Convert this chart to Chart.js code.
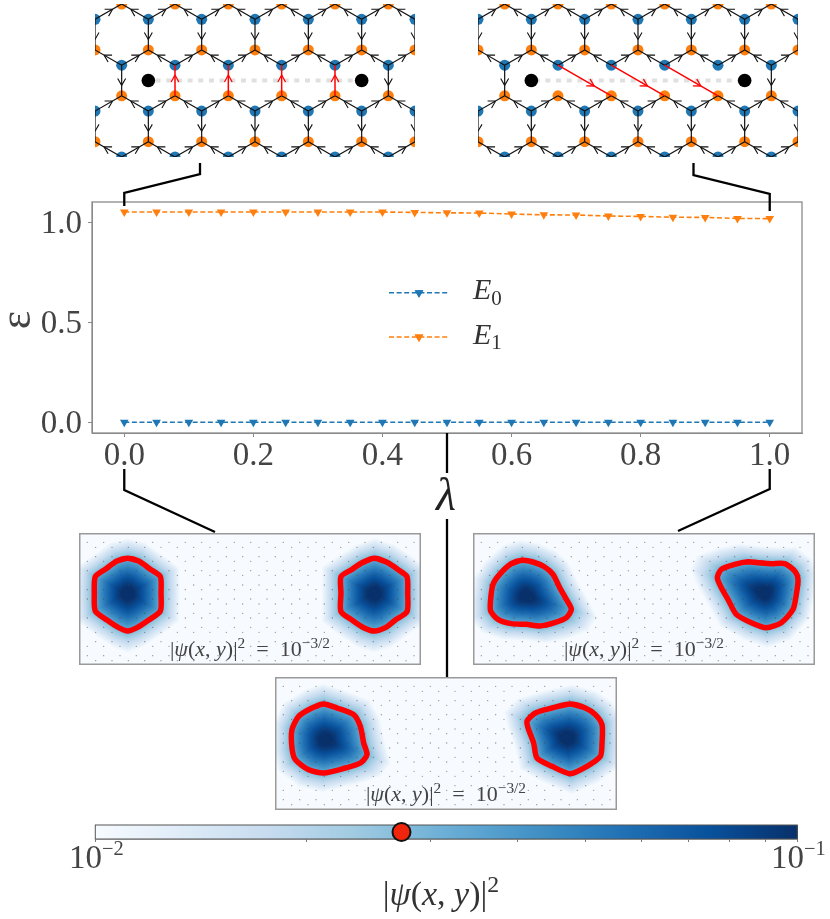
<!DOCTYPE html>
<html>
<head>
<meta charset="utf-8">
<script src="https://cdn.jsdelivr.net/npm/chart.js@4"></script>
<style>
  html, body { margin: 0; padding: 0; background: #fff; }
  #page { position: relative; width: 830px; height: 919px; overflow: hidden; }
  canvas { position: absolute; display: block; }
</style>
</head>
<body>
<div id="page"></div>
<script>
// spectrum
const lambdaValues = [0, 0.05, 0.1, 0.15, 0.2, 0.25, 0.3, 0.35, 0.4, 0.45, 0.5, 0.55, 0.6, 0.65, 0.7, 0.75, 0.8, 0.85, 0.9, 0.95, 1];
const energy0 = [0, 0, 0, 0, 0, 0, 0, 0, 0, 0, 0, 0, 0, 0, 0, 0, 0, 0, 0, 0, 0];
const energy1 = [1.05, 1.05, 1.05, 1.05, 1.05, 1.05, 1.05, 1.05, 1.05, 1.048, 1.046, 1.045, 1.04, 1.036, 1.035, 1.03, 1.028, 1.024, 1.023, 1.018, 1.017];
const xTicks = [0, 0.2, 0.4, 0.6, 0.8, 1];
const yTicks = [0, 0.5, 1];

// honeycomb lattice, x in lattice constants, y in bond lengths
const evenColumns = [0, 1, 2, 3, 4, 5, 6];
const oddColumns = [-0.5, 0.5, 1.5, 2.5, 3.5, 4.5, 5.5, 6.5];
const blueRows = [[0.5, evenColumns], [2, oddColumns], [3.5, evenColumns], [5, oddColumns]];
const orangeRows = [[0, oddColumns], [1.5, evenColumns], [3, oddColumns], [4.5, evenColumns]];
const vortexX = [1, 5];
const vortexY = 2.5;
const cutColumns = [1.5, 2.5, 3.5, 4.5];
const cutRow = 2;
const straightString = [[1.5, 3, 1.5, 2], [2.5, 3, 2.5, 2], [3.5, 3, 3.5, 2], [4.5, 3, 4.5, 2]];
const tiltedString = [[1.5, 2, 2.5, 3], [2.5, 2, 3.5, 3], [3.5, 2, 4.5, 3]];

// density panels, sample grid 1026 x 396
const dotColumnsA = [25, 74, 123, 172, 221, 270, 319, 368, 417, 466, 515, 564, 613, 662, 711, 760, 809, 858, 907, 956, 1005];
const dotColumnsB = [1, 50, 99, 148, 197, 246, 295, 344, 393, 442, 491, 540, 589, 638, 687, 736, 785, 834, 883, 932, 981];
const dotRowsA = [0, 28, 85, 113, 170, 198, 255, 283, 340, 368];
const dotRowsB = [43, 71, 127, 156, 213, 241, 298, 326, 383];

const contourLeft0 = [[146,76],[179,84],[214,109],[244,131],[246,181],[244,234],[209,261],[174,284],[146,294],[119,284],[84,261],[49,234],[46,181],[49,131],[79,109],[114,84]];
const contourRight0 = [[886,76],[924,88],[959,111],[984,131],[986,181],[984,236],[949,261],[919,284],[886,294],[854,284],[819,261],[786,236],[786,181],[786,131],[816,111],[852,88]];
const centerLeft0 = [146, 181];
const centerRight0 = [886, 181];

const contourLeft1 = [[147,82],[180,87],[215,102],[240,124],[260,164],[280,199],[295,229],[280,254],[245,269],[200,279],[160,274],[115,272],[75,259],[53,234],[53,199],[60,154],[80,124],[115,92]];
const contourRight1 = [[855,89],[895,92],[935,92],[965,114],[975,139],[970,184],[960,229],[925,269],[880,284],[835,269],[790,244],[765,199],[745,164],[733,134],[745,109],[785,94],[825,86]];
const centerLeft1 = [160, 189];
const centerRight1 = [875, 179];

const contourLeftMid = [[146,81],[186,93],[236,113],[256,148],[266,198],[276,233],[256,258],[211,273],[146,288],[101,278],[61,248],[51,213],[51,158],[71,118],[111,93]];
const contourRightMid = [[886,81],[931,93],[961,113],[981,143],[981,198],[976,238],[936,268],[886,290],[831,268],[786,243],[776,198],[761,158],[756,133],[781,108],[831,93]];
const centerLeftMid = [151, 188];
const centerRightMid = [876, 183];

// colour bar
const colorbarTicks = [0.01, 0.02, 0.03, 0.04, 0.05, 0.06, 0.07, 0.08, 0.09, 0.1];
const contourLevel = 0.0273;
const blues = [[247,251,255],[222,235,247],[198,219,239],[158,202,225],[107,174,214],[66,146,198],[33,113,181],[8,81,156],[8,48,107]];

const serif = '"Liberation Serif", "DejaVu Serif", serif';
Chart.defaults.font.family = serif;
Chart.defaults.animation = false;
Chart.defaults.layout.autoPadding = false;
Chart.defaults.plugins.legend.display = false;
Chart.defaults.plugins.tooltip.enabled = false;

function addCanvas(left, top, width, height) {
  const canvas = document.createElement('canvas');
  canvas.width = width;
  canvas.height = height;
  canvas.style.left = left + 'px';
  canvas.style.top = top + 'px';
  document.getElementById('page').appendChild(canvas);
  return canvas;
}

function bluesColor(t) {
  t = Math.max(0, Math.min(1, t)) * (blues.length - 1);
  const i = Math.min(Math.floor(t), blues.length - 2);
  const f = t - i;
  return [0, 1, 2].map(k => blues[i][k] + (blues[i + 1][k] - blues[i][k]) * f);
}

// text with italics, superscripts and subscripts
function mathText(ctx, parts, x, y, size, align, color, small = 0.7) {
  const fontFor = p => {
    const scaled = (p[1] === 'sup' || p[1] === 'sub') ? size * small : size;
    return (p[1] === 'i' ? 'italic ' : '') + scaled + 'px ' + serif;
  };
  let total = 0;
  parts.forEach(p => { ctx.font = fontFor(p); total += ctx.measureText(p[0]).width; });
  let cx = align === 'center' ? x - total / 2 : x;
  ctx.save();
  ctx.fillStyle = color;
  ctx.textAlign = 'left';
  ctx.textBaseline = 'alphabetic';
  parts.forEach(p => {
    ctx.font = fontFor(p);
    const dy = p[1] === 'sup' ? -size * 0.38 : p[1] === 'sub' ? size * 0.18 : 0;
    ctx.fillText(p[0], cx, y + dy);
    cx += ctx.measureText(p[0]).width;
  });
  ctx.restore();
}

const psiParts = [['|', ''], ['ψ', 'i'], ['(', ''], ['x', 'i'], [', ', ''], ['y', 'i'], [')', ''], ['|', ''], ['2', 'sup']];

// ---- main spectrum panel ----
const mainPlugin = {
  id: 'mainDecor',
  afterDatasetsDraw(chart) {
    const ctx = chart.ctx, area = chart.chartArea;
    const x = chart.scales.x;
    const x0 = x.getPixelForValue(0), x1 = x.getPixelForValue(1), xm = x.getPixelForValue(0.5);

    ctx.save();
    ctx.strokeStyle = '#8a8a8a';
    ctx.lineWidth = 1.3;
    ctx.strokeRect(area.left, area.top, area.right - area.left, area.bottom - area.top);

    // connectors to the insets
    ctx.strokeStyle = '#000';
    ctx.lineWidth = 2.3;
    [
      [[200, 163], [200, 174], [x0, 193], [x0, 206]],
      [[693.5, 163], [693.5, 175], [x1, 194], [x1, 211]],
      [[x0, 469], [x0, 490], [215, 532]],
      [[x1, 469], [x1, 489], [678, 531]],
      [[xm, 433], [xm, 473]],
      [[xm, 519], [xm, 677]]
    ].forEach(path => {
      ctx.beginPath();
      path.forEach((p, i) => i ? ctx.lineTo(p[0], p[1]) : ctx.moveTo(p[0], p[1]));
      ctx.stroke();
    });

    // legend
    chart.data.datasets.forEach((ds, i) => {
      const ly = 292.7 + i * 44.3;
      ctx.strokeStyle = ds.borderColor;
      ctx.fillStyle = ds.borderColor;
      ctx.lineWidth = ds.borderWidth;
      ctx.setLineDash(ds.borderDash);
      ctx.beginPath();
      ctx.moveTo(389, ly);
      ctx.lineTo(448, ly);
      ctx.stroke();
      ctx.setLineDash([]);
      Chart.helpers.drawPoint(ctx, { pointStyle: 'triangle', radius: ds.pointRadius, rotation: 180, borderWidth: 0 }, 419, ly);
      ctx.fill();
      mathText(ctx, [['E', 'i'], [String(i), 'sub']], 473, ly + 6.5, 30, 'left', '#333');
    });
    ctx.restore();

    // axis labels
    mathText(ctx, [['λ', 'i']], xm - 1, 510, 46, 'center', '#222');
    ctx.save();
    ctx.translate(30, 320);
    ctx.rotate(-Math.PI / 2);
    mathText(ctx, [['ε', '']], 0, 0, 44, 'center', '#444');
    ctx.restore();
  }
};

new Chart(addCanvas(0, 0, 830, 919), {
  type: 'scatter',
  data: {
    datasets: [
      { label: 'E0', data: lambdaValues.map((v, i) => ({ x: v, y: energy0[i] })), borderColor: '#1f77b4', backgroundColor: '#1f77b4' },
      { label: 'E1', data: lambdaValues.map((v, i) => ({ x: v, y: energy1[i] })), borderColor: '#ff7f0e', backgroundColor: '#ff7f0e' }
    ].map(ds => Object.assign(ds, {
      showLine: true, borderWidth: 1.6, borderDash: [5, 2.6], tension: 0,
      pointStyle: 'triangle', pointRotation: 180, pointRadius: 5, pointBorderWidth: 0
    }))
  },
  options: {
    responsive: false,
    layout: { padding: { left: 32, right: 28, top: 202, bottom: 426 } },
    scales: {
      x: {
        type: 'linear', min: -0.05, max: 1.05,
        afterBuildTicks: s => { s.ticks = xTicks.map(v => ({ value: v })); },
        afterFit: s => { s.height = 60; },
        grid: { drawOnChartArea: false, tickColor: '#8a8a8a', tickLength: 4 },
        border: { color: '#8a8a8a' },
        ticks: { font: { size: 33 }, color: '#444', padding: 0, maxRotation: 0, autoSkip: false, callback: v => v.toFixed(1) }
      },
      y: {
        type: 'linear', min: -0.0535, max: 1.1,
        afterBuildTicks: s => { s.ticks = yTicks.map(v => ({ value: v })); },
        afterFit: s => { s.width = 60; },
        grid: { drawOnChartArea: false, tickColor: '#8a8a8a', tickLength: 4 },
        border: { color: '#8a8a8a' },
        ticks: { font: { size: 33 }, color: '#444', padding: 6, labelOffset: 2, autoSkip: false, callback: v => v.toFixed(1) }
      }
    }
  },
  plugins: [mainPlugin]
});

// ---- lattice insets ----
function sitesOf(rows) {
  const out = [];
  rows.forEach(([y, cols]) => cols.forEach(x => out.push({ x, y })));
  return out;
}

function bondsOf(keepVertical) {
  const bonds = [];
  blueRows.forEach(([y, cols]) => cols.forEach(x => {
    bonds.push([x, y, x - 0.5, y - 0.5], [x, y, x + 0.5, y - 0.5]);
    if (keepVertical(x, y)) bonds.push([x, y, x, y + 1]);
  }));
  return bonds;
}

function segments(list) {
  const out = [];
  list.forEach(b => out.push({ x: b[0], y: b[1] }, { x: b[2], y: b[3] }, { x: NaN, y: NaN }));
  return out;
}

function drawHeads(chart, list, color, frac, len, half, width) {
  const ctx = chart.ctx, area = chart.chartArea, sx = chart.scales.x, sy = chart.scales.y;
  ctx.save();
  ctx.beginPath();
  ctx.rect(area.left, area.top, area.right - area.left, area.bottom - area.top);
  ctx.clip();
  ctx.strokeStyle = color;
  ctx.lineWidth = width;
  list.forEach(b => {
    const x0 = sx.getPixelForValue(b[0]), y0 = sy.getPixelForValue(b[1]);
    const x1 = sx.getPixelForValue(b[2]), y1 = sy.getPixelForValue(b[3]);
    const tx = x0 + (x1 - x0) * frac, ty = y0 + (y1 - y0) * frac;
    const a = Math.atan2(y1 - y0, x1 - x0);
    ctx.beginPath();
    [a + half, a - half].forEach(d => {
      ctx.moveTo(tx, ty);
      ctx.lineTo(tx - Math.cos(d) * len, ty - Math.sin(d) * len);
    });
    ctx.stroke();
  });
  ctx.restore();
}

function latticeInset(left, bonds, string, dashOffset) {
  new Chart(addCanvas(left, 4, 320, 153), {
    type: 'scatter',
    data: {
      datasets: [
        { data: vortexX.map(x => ({ x, y: vortexY })), showLine: true, borderColor: '#e0e0e0', borderWidth: 4, borderDash: [5, 5.67], borderDashOffset: dashOffset, pointRadius: 0, order: 6 },
        { data: sitesOf(blueRows), backgroundColor: '#1f77b4', pointRadius: 5.5, pointBorderWidth: 0, order: 5 },
        { data: sitesOf(orangeRows), backgroundColor: '#ff7f0e', pointRadius: 5.5, pointBorderWidth: 0, order: 4 },
        { data: segments(bonds), showLine: true, spanGaps: false, borderColor: '#111', borderWidth: 1.2, pointRadius: 0, order: 3 },
        { data: segments(string), showLine: true, spanGaps: false, borderColor: '#ff0000', borderWidth: 1.5, pointRadius: 0, order: 2 },
        { data: vortexX.map(x => ({ x, y: vortexY })), backgroundColor: '#000', pointRadius: 6.8, pointBorderWidth: 0, order: 1 }
      ]
    },
    options: {
      responsive: false,
      scales: {
        x: { type: 'linear', min: 0, max: 6, display: false },
        y: { type: 'linear', min: 0, max: 5, reverse: true, display: false }
      }
    },
    plugins: [{
      id: 'arrowHeads',
      afterDatasetsDraw(chart) {
        drawHeads(chart, bonds, '#111', 0.66, 8, 0.52, 1.1);
        drawHeads(chart, string, '#ff0000', 0.68, 8, 0.5, 1.3);
      }
    }]
  });
}

const isCut = (x, y) => y === cutRow && cutColumns.includes(x);
latticeInset(95, bondsOf((x, y) => !isCut(x, y)), straightString, 3.4);
latticeInset(478, bondsOf((x, y) => !isCut(x, y)), tiltedString, 7.3);

// ---- density insets ----
function radialTable(center, contour) {
  const table = [];
  for (let k = 0; k < 720; k++) {
    const a = k / 720 * 2 * Math.PI, dx = Math.cos(a), dy = Math.sin(a);
    let best = 0;
    contour.forEach((p, i) => {
      const q = contour[(i + 1) % contour.length];
      const ex = q[0] - p[0], ey = q[1] - p[1];
      const det = dx * -ey + ex * dy;
      if (Math.abs(det) < 1e-9) return;
      const wx = p[0] - center[0], wy = p[1] - center[1];
      const t = (wx * -ey + ex * wy) / det;
      const s = (dx * wy - dy * wx) / det;
      if (t > 0 && s >= 0 && s <= 1 && t > best) best = t;
    });
    table.push(best);
  }
  return table;
}

function densityInset(left, top, height, contourA, centerA, contourB, centerB) {
  // wrap round a little so the curve has no kink at its first point
  const closed = c => [c[c.length - 1]].concat(c, [c[0], c[1]]).map(p => ({ x: p[0], y: p[1] }));
  const dots = [];
  dotRowsA.forEach(y => dotColumnsA.forEach(x => dots.push({ x, y })));
  dotRowsB.forEach(y => dotColumnsB.forEach(x => dots.push({ x, y })));
  const blobs = [[centerA, radialTable(centerA, contourA)], [centerB, radialTable(centerB, contourB)]];

  const densityPlugin = {
    id: 'density',
    beforeDatasetsDraw(chart) {
      const area = chart.chartArea, sx = chart.scales.x, sy = chart.scales.y;
      const w = Math.round(area.right - area.left), h = Math.round(area.bottom - area.top);
      const off = document.createElement('canvas');
      off.width = w;
      off.height = h;
      const octx = off.getContext('2d');
      const img = octx.createImageData(w, h);
      for (let j = 0; j < h; j++) {
        const y = sy.getValueForPixel(area.top + j + 0.5);
        for (let i = 0; i < w; i++) {
          const x = sx.getValueForPixel(area.left + i + 0.5);
          let t = 0;
          blobs.forEach(([c, table]) => {
            const dx = x - c[0], dy = y - c[1];
            let a = Math.atan2(dy, dx);
            if (a < 0) a += 2 * Math.PI;
            const rho = Math.hypot(dx, dy) / table[Math.floor(a / (2 * Math.PI) * 720) % 720];
            t = Math.max(t, 1.05 - 0.55 * Math.pow(rho, 1.4));
          });
          const col = bluesColor(t);
          const o = (j * w + i) * 4;
          img.data[o] = col[0];
          img.data[o + 1] = col[1];
          img.data[o + 2] = col[2];
          img.data[o + 3] = 255;
        }
      }
      octx.putImageData(img, 0, 0);
      chart.ctx.drawImage(off, area.left, area.top);
    },
    afterDatasetsDraw(chart) {
      const ctx = chart.ctx, area = chart.chartArea;
      mathText(ctx, psiParts.concat([['  =  10', ''], ['−3/2', 'sup']]), (area.left + area.right) / 2, area.bottom - 9, 22, 'center', '#444');
      ctx.save();
      ctx.strokeStyle = '#999';
      ctx.lineWidth = 1.5;
      ctx.strokeRect(area.left + 0.75, area.top + 0.75, area.right - area.left - 1.5, area.bottom - area.top - 1.5);
      ctx.restore();
    }
  };

  new Chart(addCanvas(left, top, 342, height), {
    type: 'scatter',
    data: {
      datasets: [
        { data: dots, backgroundColor: 'rgba(70,70,70,0.55)', pointRadius: 0.7, pointBorderWidth: 0, order: 3 },
        { data: closed(contourA), showLine: true, tension: 0.25, borderColor: '#ff0000', borderWidth: 5.5, pointRadius: 0, order: 2 },
        { data: closed(contourB), showLine: true, tension: 0.25, borderColor: '#ff0000', borderWidth: 5.5, pointRadius: 0, order: 1 }
      ]
    },
    options: {
      responsive: false,
      scales: {
        x: { type: 'linear', min: 0, max: 1026, display: false },
        y: { type: 'linear', min: 0, max: height * 3, reverse: true, display: false }
      }
    },
    plugins: [densityPlugin]
  });
}

densityInset(79, 533, 132, contourLeft0, centerLeft0, contourRight0, centerRight0);
densityInset(473, 533, 132, contourLeft1, centerLeft1, contourRight1, centerRight1);
densityInset(275, 677, 133, contourLeftMid, centerLeftMid, contourRightMid, centerRightMid);

// ---- colour bar ----
const colorbarPlugin = {
  id: 'colorbar',
  beforeDatasetsDraw(chart) {
    const ctx = chart.ctx, area = chart.chartArea, sx = chart.scales.x;
    for (let px = Math.floor(area.left); px < area.right; px++) {
      const col = bluesColor(Math.log10(sx.getValueForPixel(px + 0.5)) + 2);
      ctx.fillStyle = `rgb(${col[0]},${col[1]},${col[2]})`;
      ctx.fillRect(px, area.top, 1, area.bottom - area.top);
    }
    ctx.save();
    ctx.strokeStyle = '#555';
    ctx.lineWidth = 1;
    ctx.strokeRect(area.left, area.top, area.right - area.left, area.bottom - area.top);
    ctx.restore();
  },
  afterDatasetsDraw(chart) {
    const ctx = chart.ctx, sx = chart.scales.x;
    const first = colorbarTicks[0], last = colorbarTicks[colorbarTicks.length - 1];
    mathText(ctx, [['10', ''], ['−2', 'sup']], sx.getPixelForValue(first) + 1, 52.5, 33, 'center', '#444', 0.62);
    mathText(ctx, [['10', ''], ['−1', 'sup']], sx.getPixelForValue(last) + 1, 52.5, 33, 'center', '#444', 0.62);
    mathText(ctx, psiParts, 441, 90, 34, 'center', '#333');
  }
};

new Chart(addCanvas(0, 815, 830, 104), {
  type: 'scatter',
  data: {
    datasets: [{
      data: [{ x: contourLevel, y: 0.5 }],
      backgroundColor: '#f0250c', borderColor: '#111', pointRadius: 9, pointBorderWidth: 2, clip: false
    }]
  },
  options: {
    responsive: false,
    layout: { padding: { left: 95.3, right: 32.7, top: 10, bottom: 76 } },
    scales: {
      x: {
        type: 'logarithmic', min: colorbarTicks[0], max: colorbarTicks[colorbarTicks.length - 1],
        afterBuildTicks: s => { s.ticks = colorbarTicks.map(v => ({ value: v })); },
        afterFit: s => { s.height = 4; },
        grid: { drawOnChartArea: false, tickColor: '#777', tickLength: 3 },
        border: { color: '#777', width: 1.5 },
        ticks: { display: false, autoSkip: false }
      },
      y: { type: 'linear', min: 0, max: 1, display: false }
    }
  },
  plugins: [colorbarPlugin]
});
</script>
</body>
</html>
